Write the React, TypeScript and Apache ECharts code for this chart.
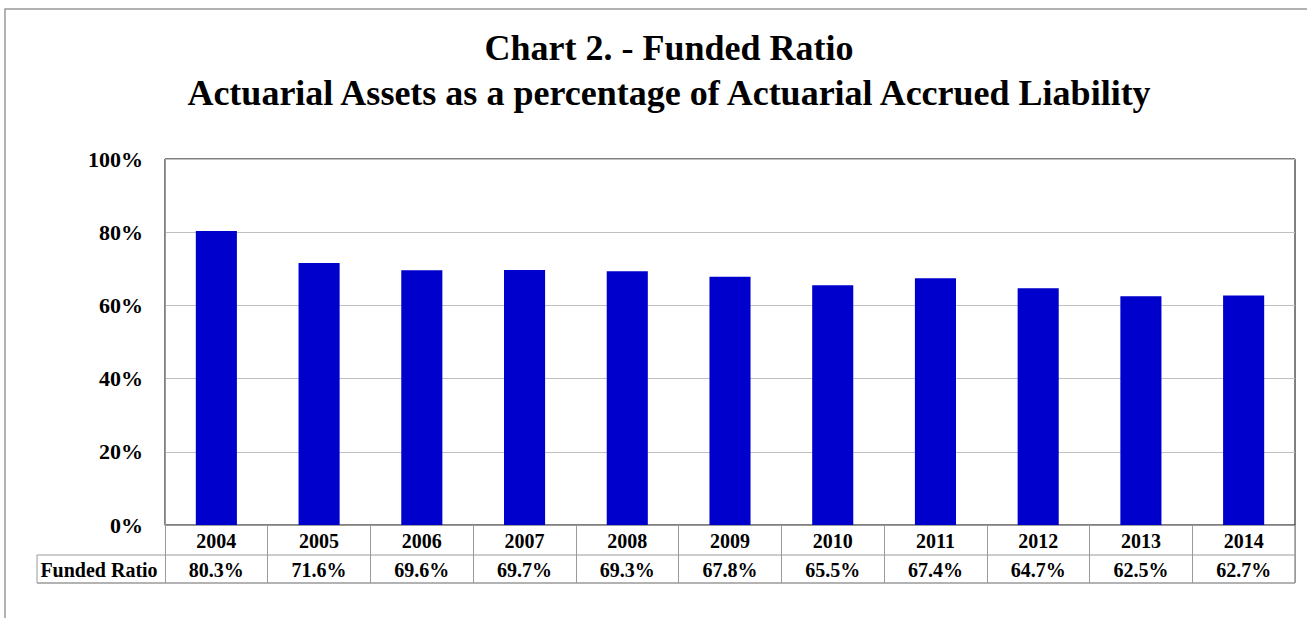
import React, { useEffect, useRef } from "react";
import * as echarts from "echarts";

const years = ["2004", "2005", "2006", "2007", "2008", "2009", "2010", "2011", "2012", "2013", "2014"];
const fundedRatio = [80.3, 71.6, 69.6, 69.7, 69.3, 67.8, 65.5, 67.4, 64.7, 62.5, 62.7];
const titleLines = ["Chart 2. - Funded Ratio", "Actuarial Assets as a percentage of Actuarial Accrued Liability"];
const rowLabel = "Funded Ratio";

const FONT = "Liberation Serif";

export default function App() {
  const ref = useRef<HTMLDivElement>(null);
  useEffect(() => {
    document.body.style.margin = "0";
    const chart = echarts.init(ref.current!, null, { renderer: "svg" });
    const L = 165, R = 1295, T = 159, B = 525;
    const gray = "#9a9a9a";
    const titleStyle = { fontFamily: FONT, fontWeight: "bold", fontSize: 36, fill: "#000", align: "center", verticalAlign: "middle" };
    chart.setOption({
      animation: false,
      backgroundColor: "#fff",
      grid: {
        left: L, right: 1307 - R, top: T, bottom: 618 - B,
        show: true, borderColor: "#000", borderWidth: 1, backgroundColor: "transparent",
      },
      xAxis: [
        {
          type: "category",
          data: years,
          position: "bottom",
          axisLine: { show: true, lineStyle: { color: gray, width: 1 } },
          axisTick: { show: true, length: 58, lineStyle: { color: gray, width: 1 } },
          axisLabel: { margin: 6, fontFamily: FONT, fontWeight: "bold", fontSize: 20, color: "#000" },
        },
        {
          type: "category",
          data: years,
          position: "bottom",
          offset: 30,
          axisLine: { show: false },
          axisTick: { show: false },
          axisLabel: {
            margin: 5,
            fontFamily: FONT, fontWeight: "bold", fontSize: 20, color: "#000",
            formatter: (_v: string, i: number) => fundedRatio[i].toFixed(1) + "%",
          },
        },
      ],
      yAxis: {
        type: "value",
        min: 0, max: 100, interval: 20,
        axisLine: { show: true, lineStyle: { color: gray, width: 1 } },
        axisTick: { show: false },
        splitLine: { show: true, lineStyle: { color: "#c0c0c0", width: 1 } },
        axisLabel: {
          margin: 22, fontFamily: FONT, fontWeight: "bold", fontSize: 22, color: "#000",
          formatter: (v: number) => v + "%",
        },
      },
      series: [
        {
          type: "bar",
          data: fundedRatio,
          barWidth: "40%",
          itemStyle: { color: "#0000CC" },
        },
      ],
      graphic: [
        { type: "rect", shape: { x: 5, y: 9, width: 1400, height: 700 }, style: { fill: "none", stroke: "#999", lineWidth: 1.5 }, silent: true },
        { type: "text", x: 669, y: 48, style: { ...titleStyle, text: titleLines[0] } },
        { type: "text", x: 669, y: 93, style: { ...titleStyle, text: titleLines[1] } },
        { type: "line", shape: { x1: 37, y1: 555, x2: R, y2: 555 }, style: { stroke: gray, lineWidth: 1 } },
        { type: "line", shape: { x1: 37, y1: 583, x2: R, y2: 583 }, style: { stroke: gray, lineWidth: 1.5 } },
        { type: "line", shape: { x1: 37, y1: 555, x2: 37, y2: 583 }, style: { stroke: gray, lineWidth: 1 } },
        { type: "line", shape: { x1: R, y1: 525, x2: R, y2: 583 }, style: { stroke: gray, lineWidth: 1.5 } },
        {
          type: "text", x: 99, y: 570,
          style: { text: rowLabel, fontFamily: FONT, fontWeight: "bold", fontSize: 20, fill: "#000", align: "center", verticalAlign: "middle" },
        },
      ],
    });
    return () => chart.dispose();
  }, []);
  return <div ref={ref} style={{ width: 1307, height: 618 }} />;
}
